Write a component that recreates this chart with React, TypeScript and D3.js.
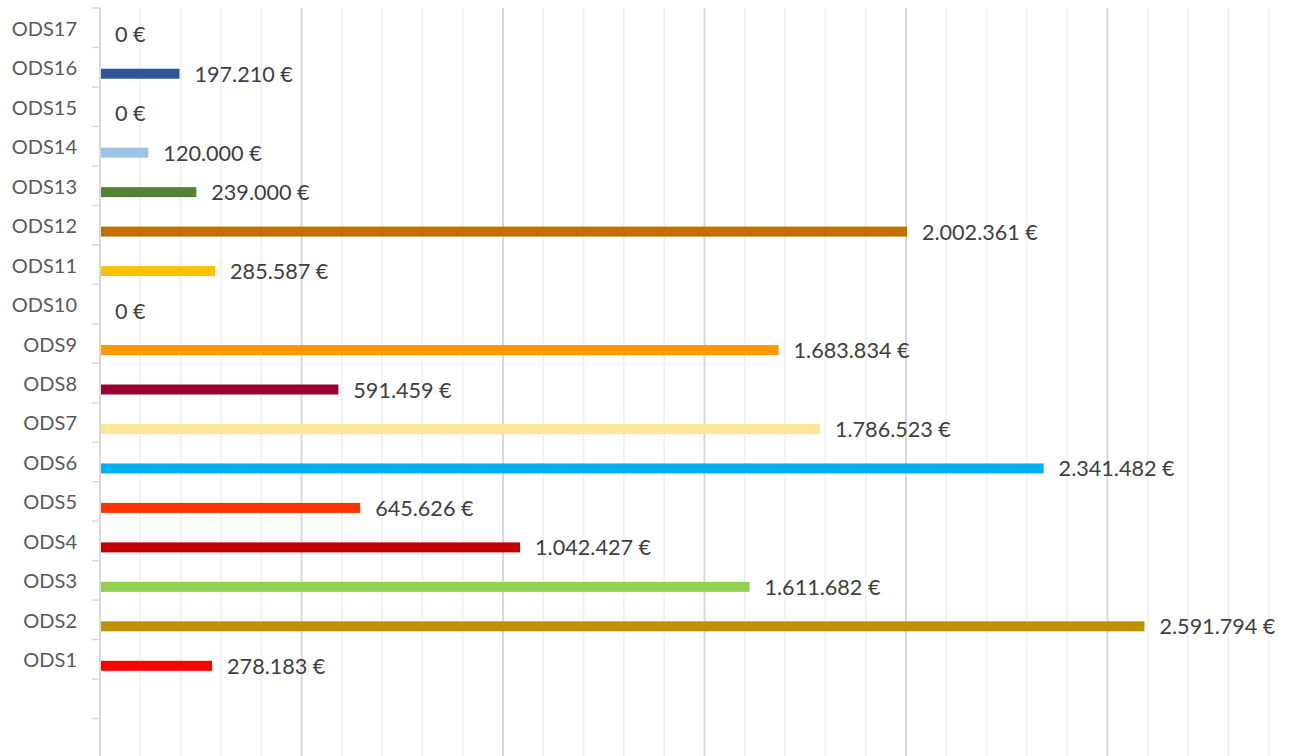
import React from 'react';
import * as d3 from 'd3';

// ODS funding amounts (€), bottom to top
const categories = [
  'ODS1', 'ODS2', 'ODS3', 'ODS4', 'ODS5', 'ODS6', 'ODS7', 'ODS8', 'ODS9',
  'ODS10', 'ODS11', 'ODS12', 'ODS13', 'ODS14', 'ODS15', 'ODS16', 'ODS17',
];
const values = [
  278183, 2591794, 1611682, 1042427, 645626, 2341482, 1786523, 591459, 1683834,
  0, 285587, 2002361, 239000, 120000, 0, 197210, 0,
];
const colors = [
  '#FF0000', '#BF9000', '#92D050', '#C00000', '#FF3300', '#00B0F0', '#FFE699', '#990033', '#FF9900',
  '#FFC000', '#FFC000', '#BF7000', '#548235', '#9DC3E6', '#2F5597', '#2F5597', '#2F5597',
];
// two empty slots below ODS1 in the original axis
const emptySlots = ['_a', '_b'];
const xMax = 3000000;
const minorStep = 100000;
const majorStep = 500000;

const W = 1294;
const H = 756;
const FONT = 'Lato, "Open Sans", sans-serif';

const locale = d3.formatLocale({ decimal: ',', thousands: '.', grouping: [3], currency: ['', ''] });
const fmt = locale.format(',');

export default function App() {
  const x = d3.scaleLinear().domain([0, xMax]).range([100, 1309]);
  const slots = [...categories.slice().reverse(), ...emptySlots];
  const y = d3.scaleBand().domain(slots).range([8, 758]).padding(0);
  const bw = y.bandwidth();

  const minorTicks = d3.range(0, xMax + 1, minorStep);
  const barH = 10;

  return (
    <svg width={W} height={H} style={{ position: 'fixed', left: 0, top: 0, background: '#fff' }}>
      {/* vertical grid */}
      {minorTicks.map((t) => (
        <line
          key={t}
          x1={x(t)}
          x2={x(t)}
          y1={8}
          y2={H}
          stroke={t % majorStep === 0 ? '#D9D9D9' : '#F0F0F0'}
          strokeWidth={t % majorStep === 0 ? 2 : 1.6}
        />
      ))}
      {/* category axis */}
      <line x1={100} x2={100} y1={8} y2={H} stroke="#D9D9D9" strokeWidth={2} />
      {d3.range(slots.length + 1).map((i) => (
        <line key={i} x1={92} x2={100} y1={8 + i * bw} y2={8 + i * bw} stroke="#D9D9D9" strokeWidth={1.5} />
      ))}
      {categories.map((c) => (
        <text
          key={c}
          x={77}
          y={(y(c) as number) + bw / 2}
          textAnchor="end"
          dominantBaseline="central"
          fontFamily={FONT}
          fontSize={20}
          fill="#595959"
        >
          {c}
        </text>
      ))}
      {/* bars + labels */}
      {categories.map((c, i) => {
        const cy = (y(c) as number) + bw / 2 + 6.5;
        const v = values[i];
        return (
          <g key={c}>
            {v > 0 && (
              <rect x={x(0) + 1} y={cy - barH / 2} width={x(v) - x(0) - 1} height={barH} fill={colors[i]} />
            )}
            <text
              x={x(v) + 15}
              y={cy}
              dominantBaseline="central"
              fontFamily={FONT}
              fontSize={21.6}
              fill="#404040"
            >
              {fmt(v) + ' €'}
            </text>
          </g>
        );
      })}
    </svg>
  );
}
